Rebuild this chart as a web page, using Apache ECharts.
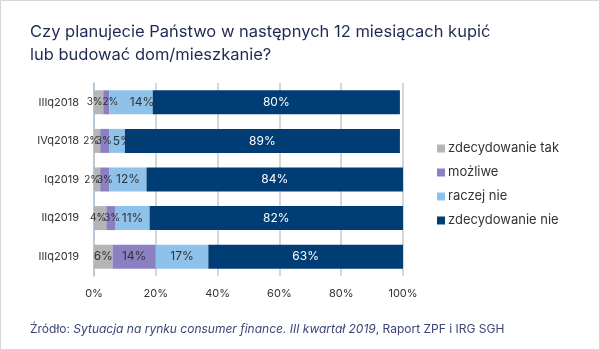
<!DOCTYPE html>
<html>
<head>
<meta charset="utf-8">
<script src="https://cdn.jsdelivr.net/npm/echarts@6/dist/echarts.min.js"></script>
<style>
  html, body { margin: 0; padding: 0; background: #fff; }
  #chart { width: 600px; height: 350px; }
</style>
</head>
<body>
<div id="chart"></div>
<script>
const categories = ['IIIq2018', 'IVq2018', 'Iq2019', 'IIq2019', 'IIIq2019'];
const seriesNames = ['zdecydowanie tak', 'możliwe', 'raczej nie', 'zdecydowanie nie'];
const tak = [3, 2, 2, 4, 6];
const mozliwe = [2, 3, 3, 3, 14];
const raczejNie = [14, 5, 12, 11, 17];
const nie = [80, 89, 84, 82, 63];
const xTicks = [0, 20, 40, 60, 80, 100];

const colors = ['#b5b5b5', '#8a80c2', '#8fc2ea', '#003d74'];
const font = 'Inter, "Noto Sans", sans-serif';

// horizontal nudges (px) so the labels of thin segments don't collide
const labelShift = [
    [-4, -6, -5, -2, 0],
    [4, -1, 0, 1, 0],
    [11, 5, 0, 0, 0],
    [0, 0, 0, 0, 0]
];

const myChart = echarts.init(document.getElementById('chart'));

function makeSeries(name, data, idx) {
    return {
        name: name,
        type: 'bar',
        stack: 'total',
        barWidth: 24,
        itemStyle: { color: colors[idx] },
        data: data.map((v, i) => ({
            value: v,
            label: {
                offset: [labelShift[idx][i], 0],
                fontSize: v < 5 ? 10 : 12
            }
        })),
        label: {
            show: true,
            position: 'inside',
            formatter: '{c}%',
            fontFamily: font,
            fontSize: 12,
            color: idx === 3 ? '#ffffff' : '#333333'
        }
    };
}

const option = {
    animation: false,
    backgroundColor: '#fff',
    color: colors,
    graphic: [{
        type: 'rect',
        shape: { x: 0.5, y: 0.5, width: 599, height: 349 },
        style: { fill: 'none', stroke: '#d6d6d6', lineWidth: 1 },
        silent: true
    }],
    title: [{
        text: 'Czy planujecie Państwo w następnych 12 miesiącach kupić\nlub budować dom/mieszkanie?',
        left: 25,
        top: 16,
        textStyle: {
            fontFamily: font,
            fontSize: 16.5,
            fontWeight: 'normal',
            color: '#1f2a52',
            lineHeight: 23
        }
    }, {
        text: '{n|Źródło: }{i|Sytuacja na rynku consumer finance. III kwartał 2019}{n|, Raport ZPF i IRG SGH}',
        left: 25,
        top: 318,
        textStyle: {
            fontWeight: 'normal',
            rich: {
                n: { fontFamily: font, fontSize: 12, fontWeight: 'normal', color: '#3b4576' },
                i: { fontFamily: font, fontSize: 12, fontWeight: 'normal', color: '#3b4576', fontStyle: 'italic' }
            }
        }
    }],
    legend: {
        orient: 'vertical',
        left: 432,
        top: 137,
        itemWidth: 8,
        itemHeight: 8,
        itemGap: 11,
        icon: 'rect',
        data: seriesNames,
        textStyle: { fontFamily: font, fontSize: 13, color: '#333', padding: [0, 0, 0, -2] }
    },
    grid: { left: 94, right: 197, top: 83, bottom: 74, containLabel: false },
    xAxis: {
        type: 'value',
        min: 0,
        max: 100,
        interval: 20,
        axisLine: { show: false },
        axisTick: { show: false },
        splitLine: { show: true, lineStyle: { color: '#c8c8c8', width: 1.5 } },
        axisLabel: {
            formatter: v => xTicks.indexOf(v) >= 0 ? v + '%' : '',
            fontFamily: font,
            fontSize: 11,
            color: '#333',
            margin: 12
        }
    },
    yAxis: {
        type: 'category',
        data: categories,
        inverse: true,
        axisLine: { show: true, lineStyle: { color: '#a9c4e0', width: 1.5 } },
        axisTick: { show: false },
        axisLabel: { fontFamily: font, fontSize: 11, color: '#333', margin: 15 }
    },
    series: [
        makeSeries(seriesNames[0], tak, 0),
        makeSeries(seriesNames[1], mozliwe, 1),
        makeSeries(seriesNames[2], raczejNie, 2),
        makeSeries(seriesNames[3], nie, 3)
    ]
};

myChart.setOption(option);
</script>
</body>
</html>
